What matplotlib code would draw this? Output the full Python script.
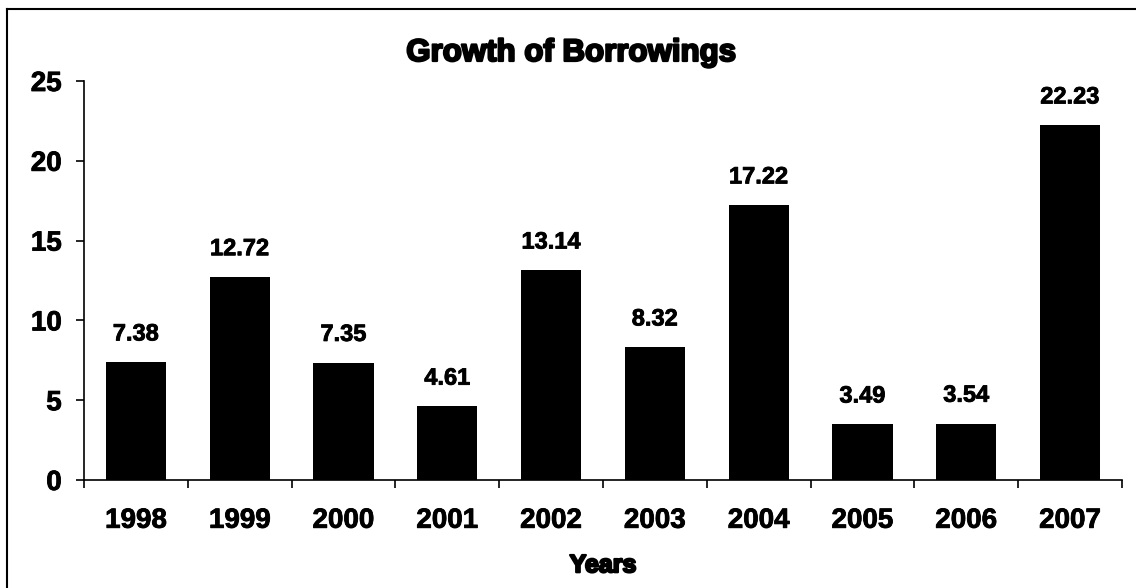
import matplotlib
matplotlib.use("Agg")
import matplotlib.pyplot as plt
import matplotlib.patheffects as pe
from matplotlib.lines import Line2D

years = ["1998", "1999", "2000", "2001", "2002", "2003", "2004", "2005", "2006", "2007"]
growth = [7.38, 12.72, 7.35, 4.61, 13.14, 8.32, 17.22, 3.49, 3.54, 22.23]

plt.rcParams["font.family"] = ["Liberation Sans", "DejaVu Sans"]
plt.rcParams["font.weight"] = "bold"

heavy = [pe.withStroke(linewidth=1.6, foreground="black")]
medium = [pe.withStroke(linewidth=0.6, foreground="black")]

fig = plt.figure(figsize=(11.36, 5.88), dpi=100)
ax = fig.add_axes([84 / 1136, 1 - 480 / 588, (1122 - 84) / 1136, (480 - 81) / 588])

x = list(range(len(years)))
ax.bar(x, growth, width=0.58, color="black")

for xi, v in zip(x, growth):
    ax.text(xi, v + 1.05, f"{v:.2f}", ha="center", va="bottom",
            fontsize=17, fontweight="bold", path_effects=medium)

ax.set_xlim(-0.5, len(years) - 0.5)
ax.set_ylim(0, 25)
ax.set_yticks([0, 5, 10, 15, 20, 25])
ax.set_xticks(x)
ax.set_xticklabels(years)
ax.set_xticks([i - 0.5 for i in range(len(years) + 1)], minor=True)
ax.tick_params(axis="x", which="major", length=0, pad=20, labelsize=20)
ax.tick_params(axis="x", which="minor", length=6, width=1.2, direction="out")
ax.tick_params(axis="y", length=6, width=1.2, labelsize=20, pad=10)
for lbl in ax.get_xticklabels() + ax.get_yticklabels():
    lbl.set_fontweight("bold")
    lbl.set_path_effects(medium)

ax.spines["top"].set_visible(False)
ax.spines["right"].set_visible(False)
ax.spines["left"].set_linewidth(1.2)
ax.spines["bottom"].set_linewidth(1.2)

ax.set_xlabel("Years", fontsize=18, fontweight="bold", labelpad=14,
              path_effects=heavy)

# chart title, centred over the whole framed area
fig.text(571 / 1136, 1 - 53 / 588, "Growth of Borrowings", ha="center",
         va="center", fontsize=22.5, fontweight="bold", path_effects=heavy)

# frame around the chart area (left and top edges)
fig.add_artist(Line2D([7 / 1136, 7 / 1136], [0, 1 - 9 / 588],
                      transform=fig.transFigure, color="black", lw=1.5))
fig.add_artist(Line2D([7 / 1136, 1], [1 - 9 / 588, 1 - 9 / 588],
                      transform=fig.transFigure, color="black", lw=1.5))

fig.savefig("out.png", dpi=100)
